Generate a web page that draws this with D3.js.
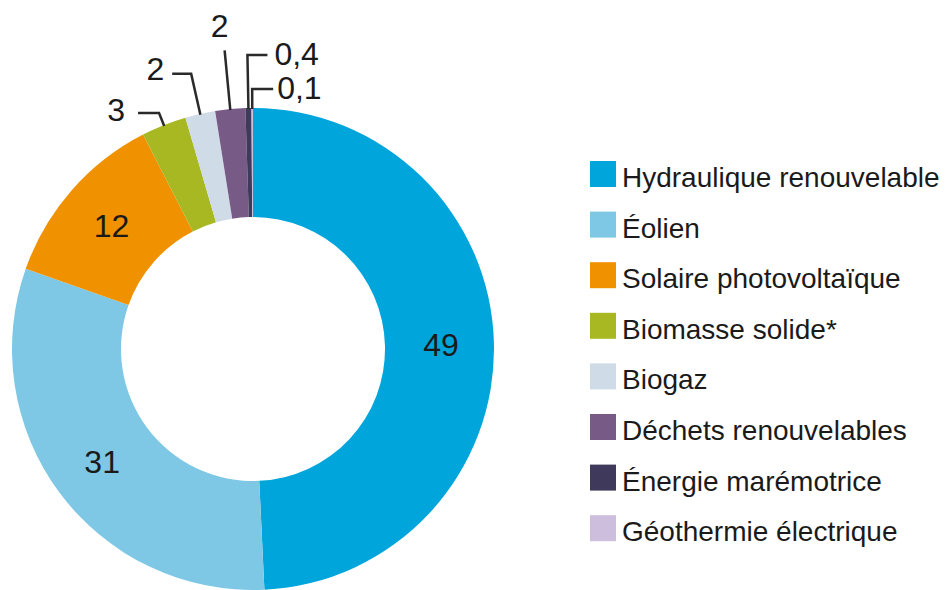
<!DOCTYPE html>
<html>
<head>
<meta charset="utf-8">
<script src="https://cdn.jsdelivr.net/npm/d3@7"></script>
<style>
  body { margin: 0; background: #fff; }
  svg { display: block; font-family: "Liberation Sans", Arial, sans-serif; }
</style>
</head>
<body>
<svg width="947" height="590"></svg>
<script>
// données
var categories = ["Hydraulique renouvelable", "Éolien", "Solaire photovoltaïque", "Biomasse solide*",
                  "Biogaz", "Déchets renouvelables", "Énergie marémotrice", "Géothermie électrique"];
var values = [49, 31, 12, 3, 2, 2, 0.4, 0.1];
var valueLabels = ["49", "31", "12", "3", "2", "2", "0,4", "0,1"];
var colors = ["#00a5dc", "#7ec8e6", "#f09100", "#a8b823", "#cfdbe6", "#775a85", "#3f3a5b", "#cdbedd"];

var svg = d3.select("svg"),
    cx = 253, cy = 349,
    outerR = 241, innerR = 132;

var g = svg.append("g").attr("transform", "translate(" + cx + "," + cy + ")");

var pie = d3.pie().sort(null).value(function(d) { return d.value; });
var data = categories.map(function(c, i) {
  return { name: c, value: values[i], label: valueLabels[i], color: colors[i] };
});
var arcs = pie(data);

var path = d3.arc().innerRadius(innerR).outerRadius(outerR);
var labelArc = d3.arc().innerRadius(188).outerRadius(188);

g.selectAll("path.slice")
  .data(arcs)
  .enter().append("path")
  .attr("class", "slice")
  .attr("d", path)
  .attr("fill", function(d) { return d.data.color; });

// étiquettes dans l'anneau (grosses parts)
g.selectAll("text.inner")
  .data(arcs.filter(function(d) { return d.data.value >= 10; }))
  .enter().append("text")
  .attr("class", "inner")
  .attr("transform", function(d) { return "translate(" + labelArc.centroid(d) + ")"; })
  .attr("text-anchor", "middle")
  .attr("dy", "0.36em")
  .attr("font-size", 32)
  .attr("fill", "#1a1a1a")
  .text(function(d) { return d.data.label; });

// petites parts : lignes de rappel (rayon du coude, longueur du segment horizontal, position du texte)
var leaders = {
  3: { r: 254, dx: -21, anchor: "end",    tx: -13, ty: -4 },
  4: { r: 282, dx: -19, anchor: "end",    tx: -8,  ty: -5 },
  5: { r: 300, dx: 0,   anchor: "middle", tx: -5,  ty: -25 },
  6: { r: 294, dx: 20,  anchor: "start",  tx: 7,   ty: -2 },
  7: { r: 260, dx: 21,  anchor: "start",  tx: 4,   ty: -2 }
};

function polar(a, r) { return [Math.sin(a) * r, -Math.cos(a) * r]; }

arcs.forEach(function(d, i) {
  var L = leaders[i];
  if (!L) return;
  var a = (d.startAngle + d.endAngle) / 2;
  var p0 = polar(a, outerR - 1);
  var p1 = polar(a, L.r);
  var p2 = [p1[0] + L.dx, p1[1]];
  g.append("path")
    .attr("d", d3.line()([p0, p1, p2]))
    .attr("fill", "none")
    .attr("stroke", "#2a2a2a")
    .attr("stroke-width", 2.5);
  g.append("text")
    .attr("x", p2[0] + L.tx)
    .attr("y", p2[1] + L.ty)
    .attr("dy", "0.36em")
    .attr("text-anchor", L.anchor)
    .attr("font-size", 32)
    .attr("fill", "#1a1a1a")
    .text(d.data.label);
});

// légende
var legend = svg.append("g").attr("transform", "translate(590,161)");
var row = legend.selectAll("g")
  .data(data)
  .enter().append("g")
  .attr("transform", function(d, i) { return "translate(0," + (i * 50.6) + ")"; });

row.append("rect")
  .attr("width", 26)
  .attr("height", 26)
  .attr("fill", function(d) { return d.color; });

row.append("text")
  .attr("x", 32)
  .attr("y", 26)
  .attr("font-size", 28)
  .attr("fill", "#1a1a1a")
  .text(function(d) { return d.name; });
</script>
</body>
</html>
